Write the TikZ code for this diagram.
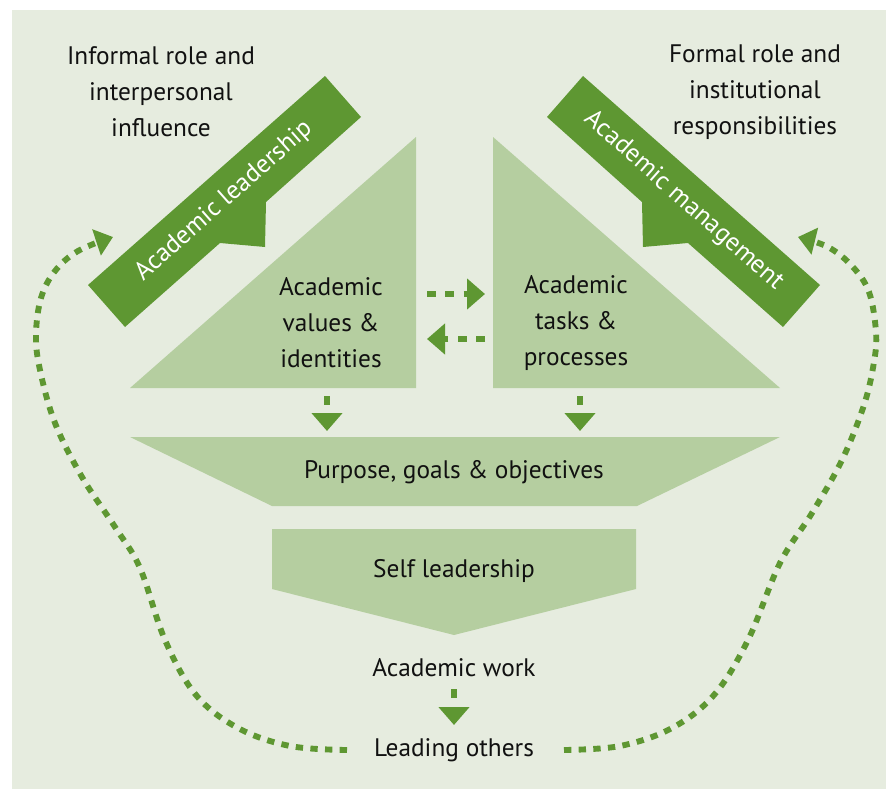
\documentclass[tikz,border=0pt]{standalone}
\usepackage{fontspec}
\setmainfont{PT Sans}
\usetikzlibrary{arrows.meta}
\definecolor{bg}{HTML}{E6ECDF}
\definecolor{lightg}{HTML}{B5CEA0}
\definecolor{darkg}{HTML}{5E9732}
\definecolor{ink}{HTML}{111111}
\begin{document}
\begin{tikzpicture}[x=0.75pt,y=-0.75pt,
  txt/.style={font=\fontsize{19}{27}\selectfont, align=center, text=ink, inner sep=0pt},
  bantxt/.style={font=\fontsize{19.3}{20}\selectfont, text=white, inner sep=0pt},
  dasharr/.style={darkg, line width=4.1pt, dash pattern=on 6.75pt off 7pt, -{Triangle[length=13.5pt,width=22.5pt]}},
  curvarr/.style={darkg, line width=4.4pt, dash pattern=on 5.5pt off 5.5pt, -{Triangle[length=13pt,width=20pt]}}
]
\useasboundingbox (0,0) rectangle (886,789);
\fill[bg] (12,10) rectangle (886,789);

% light shapes
\fill[lightg] (416,137) -- (416,388) -- (130,388) -- cycle;
\fill[lightg] (493,137) -- (493,388) -- (780,388) -- cycle;
\fill[lightg] (130,437) -- (780,437) -- (637,506) -- (272,506) -- cycle;
\fill[lightg] (272,529) -- (636,529) -- (636,589) -- (454,635) -- (272,589) -- cycle;

% banners
\fill[darkg] (325,76) -- (88,285) -- (125,327) -- (220,243) -- (265,247) -- (266,202) -- (361,117) -- cycle;
\fill[darkg] (583,76) -- (820,285) -- (783,327) -- (688,243) -- (643,247) -- (642,202) -- (547,117) -- cycle;
\node[bantxt, rotate=41.5] (lead) at (224,201) {Academic leadership};
\node[bantxt, rotate=-41.5] (mgmt) at (684,201) {Academic management};

% texts
\node[txt] (informal) at (161,92) {Informal role and\\interpersonal\\influence};
\node[txt] (formal) at (755,92) {Formal role and\\institutional\\responsibilities};
\node[txt] (values) at (331,323) {Academic\\values \&\\identities};
\node[txt] (tasks) at (576,323) {Academic\\tasks \&\\processes};
\node[txt] (purpose) at (454,472) {Purpose, goals \& objectives};
\node[txt] (self) at (454,571) {Self leadership};
\node[txt] (work) at (454,668) {Academic work};
\node[txt] (others) at (454,750) {Leading others};

% small dashed arrows
\coordinate (r1) at (427,294); \coordinate (r2) at (485,294);
\coordinate (l1) at (485,339); \coordinate (l2) at (427,339);
\coordinate (d1a) at (327,396); \coordinate (d1b) at (327,431);
\coordinate (d2a) at (580,396); \coordinate (d2b) at (580,431);
\coordinate (wa) at (454,689); \coordinate (wb) at (454,725);
\draw[dasharr] (r1) -- (r2);
\draw[dasharr] (l1) -- (l2);
\draw[dasharr] (d1a) -- (d1b);
\draw[dasharr] (d2a) -- (d2b);
\draw[dasharr] (wa) -- (wb);

% big feedback curves
\coordinate (ls) at (347,750); \coordinate (lt) at (113,237);
\coordinate (rs) at (564,750); \coordinate (rt) at (798,237);
\draw[curvarr] plot[smooth, tension=0.6] coordinates {(ls) (290,746) (238,728) (196,695) (165,640) (140,568) (115,527) (82,477) (55,423) (40,370) (36,335) (41,298) (55,271) (78,251) (lt)};
\draw[curvarr] plot[smooth, tension=0.6] coordinates {(rs) (620,746) (672,728) (714,695) (748,640) (780,563) (812,513) (842,460) (864,405) (874,362) (876,332) (869,292) (852,266) (828,247) (rt)};
\end{tikzpicture}
\end{document}
